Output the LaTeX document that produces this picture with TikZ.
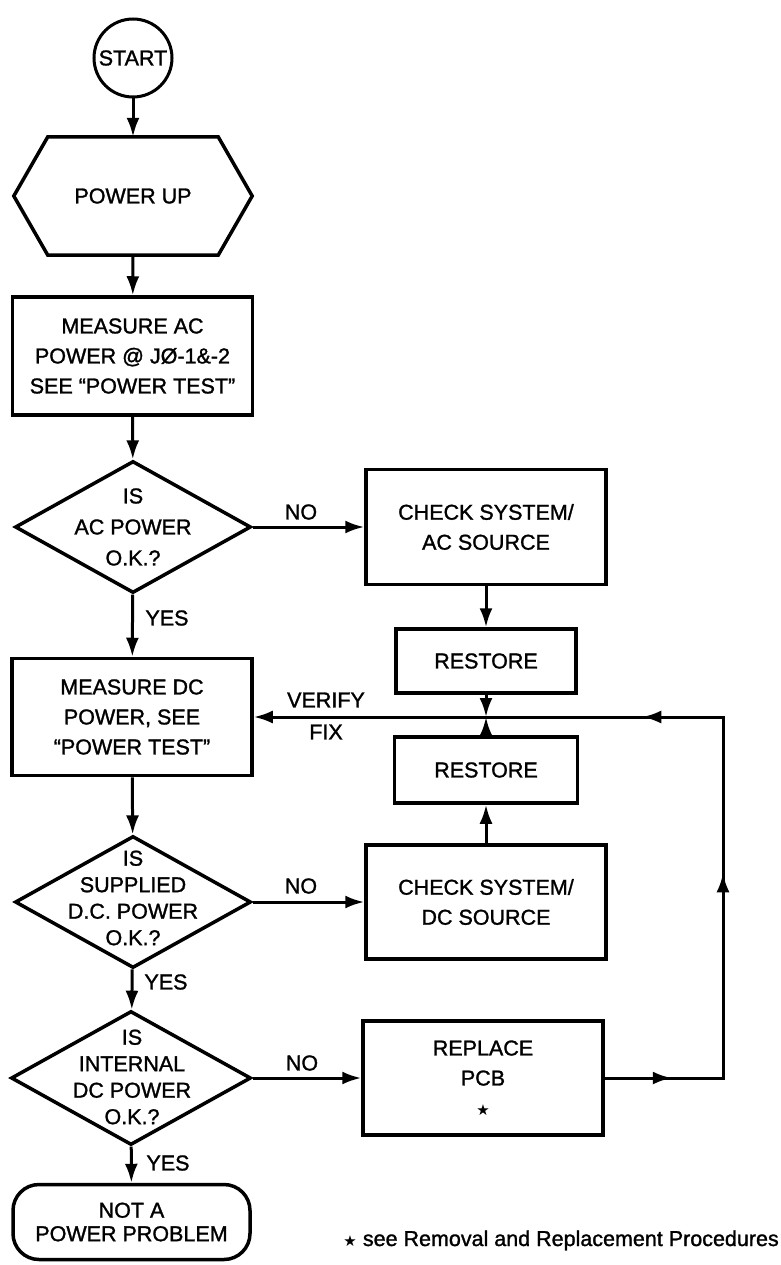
\documentclass[tikz,border=0pt]{standalone}
\usepackage{fontspec}
\setmainfont{Liberation Sans}[FakeBold=1.3]
\newfontfamily\starfont{DejaVu Sans}
\newcommand{\tstar}{{\starfont\fontsize{15}{15}\selectfont ★}}
\usetikzlibrary{arrows.meta,shapes.geometric,decorations.markings}
\begin{document}
\begin{tikzpicture}[x=1pt,y=-1pt,
  every node/.style={font=\fontsize{21.5}{30}\selectfont},
  shp/.style={draw,line width=3.5pt,inner sep=0pt,align=center},
  box/.style={shp,rectangle,minimum width=240pt},
  dia/.style={shp,diamond,minimum width=236pt,minimum height=132pt},
  dtxt/.style={align=center,inner sep=0pt,font=\fontsize{21.5}{26.5}\selectfont},
  con/.style={line width=3pt,-{Latex[length=19pt,width=13pt]}},
  lbl/.style={inner sep=0pt},
]
\useasboundingbox (0,0) rectangle (780,1265);

% main column
\node[shp,circle,minimum size=78pt,line width=3pt] (start) at (133,58) {START};
\node[minimum width=238pt,minimum height=118pt,inner sep=0pt] (pu) at (133,196) {POWER UP};
\draw[line width=3.5pt] ([xshift=34pt]pu.north west) -- ([xshift=-34pt]pu.north east) -- (pu.east)
  -- ([xshift=-34pt]pu.south east) -- ([xshift=34pt]pu.south west) -- (pu.west) -- cycle;
\node[box,minimum height=118pt] (measac) at (132.5,356) {MEASURE AC\\POWER @ JØ-1\&-2\\SEE “POWER TEST”};
\node[dia] (d1) at (133,527) {};
\node[dtxt,font=\fontsize{21.5}{31}\selectfont] (t1) at (133,527) {IS\\AC POWER\\O.K.?};
\node[box,minimum height=117pt] (measdc) at (132,717) {MEASURE DC\\POWER, SEE\\“POWER TEST”};
\node[dia] (d2) at (133,902) {};
\node[dtxt] (t2) at (133,898) {IS\\SUPPLIED\\D.C. POWER\\O.K.?};
\node[dia,minimum width=240pt,minimum height=134pt] (d3) at (131,1078) {};
\node[dtxt] (t3) at (132,1077) {IS\\INTERNAL\\DC POWER\\O.K.?};
\node[shp,rectangle,rounded corners=26pt,minimum width=237pt,minimum height=75pt,
  font=\fontsize{21.5}{23.5}\selectfont] (term) at (131.5,1222) {NOT A\\POWER PROBLEM};

% right column
\node[box,minimum height=115pt] (chkac) at (486,527) {CHECK SYSTEM/\\AC SOURCE};
\node[box,minimum width=180pt,minimum height=64pt] (rest1) at (486,661) {RESTORE};
\node[box,minimum width=183pt,minimum height=66pt] (rest2) at (486,770) {RESTORE};
\node[box,minimum height=114pt] (chkdc) at (486,902) {CHECK SYSTEM/\\DC SOURCE};
\node[box,minimum height=114pt] (replace) at (483,1078) {REPLACE\\PCB\\\tstar};

\coordinate (jn) at (486,717);
\coordinate (c1) at (723,1078);
\coordinate (c2) at (723,717);

% connectors
\draw[con] (start) -- (pu.north);
\draw[con] (pu.south) -- (measac);
\draw[con] (measac) -- (d1);
\draw[con] (d1) -- (measdc);
\draw[con] (d1.east) -- (chkac.west);
\draw[con] (chkac) -- (rest1);
\draw[con] (rest1) -- (jn);
\draw[con] (rest2) -- (jn);
\draw[con] (chkdc) -- (rest2);
\draw[con] (measdc) -- (d2);
\draw[con] (d2.east) -- (chkdc.west);
\draw[con] (d2) -- (d3);
\draw[con] (d3.east) -- (replace.west);
\draw[con] (d3) -- (term);
\draw[con,postaction={decorate},decoration={markings,
   mark=at position 67pt with {\arrow{Latex[length=19pt,width=13pt]}},
   mark=at position 323pt with {\arrow{Latex[length=19pt,width=13pt]}},
   mark=at position 560pt with {\arrow{Latex[length=19pt,width=13pt]}}}]
  (replace.east) -- (c1) -- (c2) -- (measdc.east);

% labels
\node[lbl] (no1) at (301,512) {NO};
\node[lbl] (yes1) at (167,618) {YES};
\node[lbl] (ver) at (326,700) {VERIFY};
\node[lbl] (fix) at (326,732) {FIX};
\node[lbl] (no2) at (301,886) {NO};
\node[lbl] (yes2) at (166,982) {YES};
\node[lbl] (no3) at (302,1063) {NO};
\node[lbl] (yes3) at (168,1163) {YES};
\node[lbl,anchor=base east] (fn) at (779,1246) {\tstar{} see Removal and Replacement Procedures};
\end{tikzpicture}
\end{document}
